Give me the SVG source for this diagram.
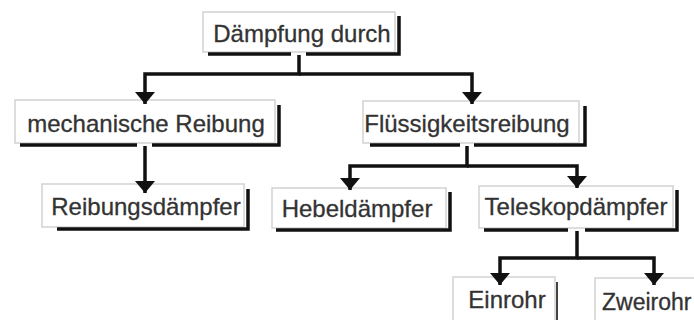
<svg xmlns="http://www.w3.org/2000/svg" width="694" height="320" viewBox="0 0 694 320">
<style>
.box{fill:#ffffff;stroke:#d2d2d2;stroke-width:1.5}
.sh{fill:none;stroke:#111;stroke-width:3.5;stroke-linejoin:miter;stroke-linecap:butt}
.lbl{font-family:"Liberation Sans",Arial,sans-serif;font-size:24px;fill:#333333;stroke:#333333;stroke-width:0.3;text-anchor:middle}
.con{fill:none;stroke:#111;stroke-width:3.5;stroke-linejoin:miter}
</style>
<defs>
<marker id="ah" viewBox="0 0 12 20" refX="12" refY="10" markerWidth="12" markerHeight="20" markerUnits="userSpaceOnUse" orient="auto">
<path d="M0,0 L12,10 L0,20 z" fill="#111"/>
</marker>
</defs>
<rect width="694" height="320" fill="#ffffff"/>
<g id="n1">
<rect class="box" x="203" y="12" width="192" height="40"/>
<path class="sh" d="M208,54 H291 M306,54 H399 V16"/>
<text class="lbl" x="302" y="42">Dämpfung durch</text>
</g>
<g id="n2">
<rect class="box" x="15" y="100" width="260" height="43"/>
<path class="sh" d="M20,145 H137 M152,145 H279 V105"/>
<text class="lbl" x="146" y="132">mechanische Reibung</text>
</g>
<g id="n3">
<rect class="box" x="363" y="101" width="216" height="42"/>
<path class="sh" d="M370,145 H460 M474,145 H585 V106"/>
<text class="lbl" x="467" y="132">Flüssigkeitsreibung</text>
</g>
<g id="n4">
<rect class="box" x="42" y="184" width="202" height="43"/>
<path class="sh" d="M57,229 H248 V189"/>
<text class="lbl" x="146" y="215">Reibungsdämpfer</text>
</g>
<g id="n5">
<rect class="box" x="272" y="188" width="174" height="40"/>
<path class="sh" d="M276,230 H450 V192"/>
<text class="lbl" x="357" y="217">Hebeldämpfer</text>
</g>
<g id="n6">
<rect class="box" x="479" y="186" width="194" height="42"/>
<path class="sh" d="M484,230 H568 M585,230 H677 V190"/>
<text class="lbl" x="576" y="215">Teleskopdämpfer</text>
</g>
<g id="n7">
<rect class="box" x="453" y="277" width="102" height="50"/>
<path class="sh" d="M557,282 V325" style="stroke-width:2;stroke:#444"/>
<text class="lbl" x="507" y="308">Einrohr</text>
</g>
<g id="n8">
<rect class="box" x="595" y="278" width="110" height="50"/>
<text class="lbl" x="602" y="310" style="text-anchor:start;font-size:23px">Zweirohr</text>
</g>
<g id="connectors">
<path class="con" d="M299,55 V74 H145 V104" marker-end="url(#ah)"/>
<path class="con" d="M299,74 H472 V104" marker-end="url(#ah)"/>
<path class="con" d="M145,146 V193" marker-end="url(#ah)"/>
<path class="con" d="M467,146 V166 H350 V190" marker-end="url(#ah)"/>
<path class="con" d="M467,166 H577 V188" marker-end="url(#ah)"/>
<path class="con" d="M577,231 V258 H500 V285" marker-end="url(#ah)"/>
<path class="con" d="M577,258 H654 V285" marker-end="url(#ah)"/>
</g>
</svg>
